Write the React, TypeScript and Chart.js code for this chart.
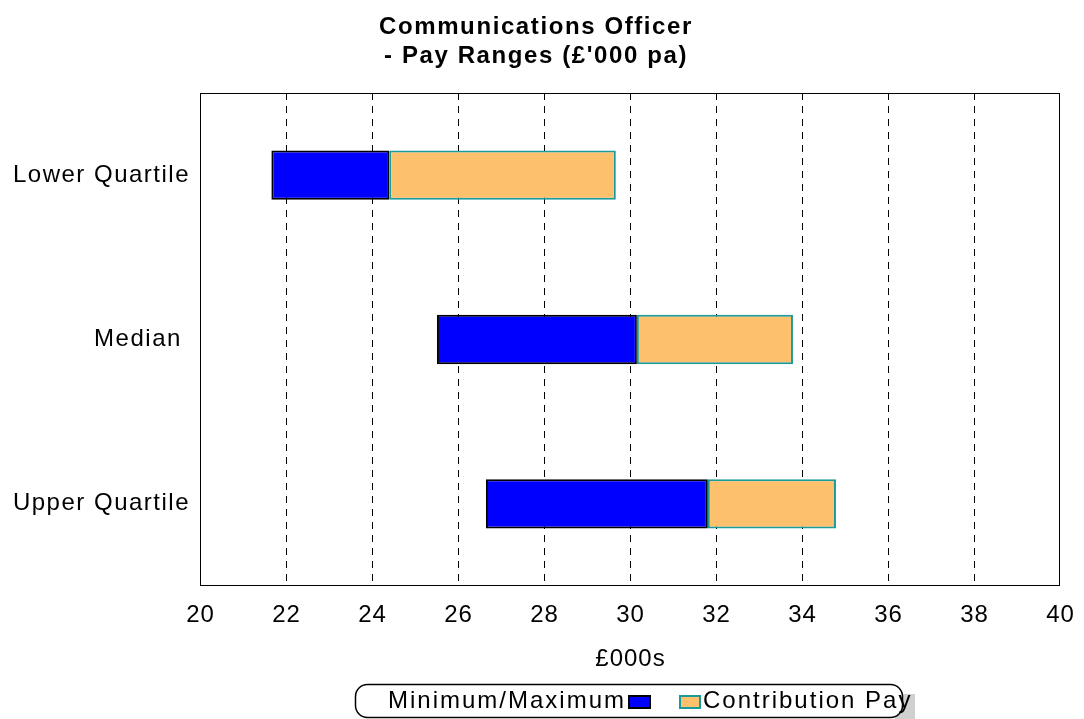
import { useEffect, useRef } from 'react';
import { Chart, registerables } from 'chart.js';

Chart.register(...registerables);

// Pay bands per quartile, in £'000 per year
const categories = ['Lower Quartile', 'Median ', 'Upper Quartile'];
const minimumPay = [21.66, 25.51, 26.65];
const midPay = [24.4, 30.16, 31.81];
const maximumPay = [29.67, 33.79, 34.79];
const xTickValues = [20, 22, 24, 26, 28, 30, 32, 34, 36, 38, 40];
const seriesNames = ['Minimum/Maximum', 'Contribution Pay'];
const titleLines = ['Communications Officer', "- Pay Ranges (£'000 pa)"];
const xAxisTitle = '£000s';

const FONT = '"Liberation Sans", Arial, sans-serif';
const BLUE = '#0000FF';
const ORANGE = '#FDC06D';
const TEAL = '#1B9A9A';

const textPlugin = {
  id: 'chartText',
  afterDraw(chart: any) {
    const ctx = chart.ctx as CanvasRenderingContext2D;
    const { left, top, right, bottom } = chart.chartArea;
    const xScale = chart.scales.x;
    const yScale = chart.scales.y;
    ctx.save();

    // plot frame
    ctx.strokeStyle = '#000';
    ctx.lineWidth = 1;
    ctx.setLineDash([]);
    ctx.strokeRect(left + 0.5, top + 0.5, right - left - 1, bottom - top - 1);

    ctx.fillStyle = '#000';

    // category labels
    (ctx as any).letterSpacing = '1.5px';
    ctx.font = `24px ${FONT}`;
    ctx.textAlign = 'right';
    ctx.textBaseline = 'middle';
    categories.forEach((c, i) => {
      ctx.fillText(c, left - 10, yScale.getPixelForValue(i));
    });

    // value ticks
    (ctx as any).letterSpacing = '1px';
    ctx.textAlign = 'center';
    xTickValues.forEach((v) => {
      ctx.fillText(String(v), xScale.getPixelForValue(v) + 0.5, bottom + 29);
    });

    // axis title
    ctx.fillText(xAxisTitle, (left + right) / 2 + 0.5, bottom + 73);

    // chart title
    (ctx as any).letterSpacing = '1.6px';
    ctx.font = `bold 24px ${FONT}`;
    titleLines.forEach((t, i) => {
      ctx.fillText(t, 536, 27 + i * 29);
    });

    // legend
    const lx = 355, ly = 684, lw = 547, lh = 33;
    ctx.fillStyle = '#D0D0D0';
    ctx.fillRect(lx + 540, ly + 10, 20, 40);
    ctx.beginPath();
    ctx.roundRect(lx + 0.5, ly + 0.5, lw, lh, 12);
    ctx.fillStyle = '#fff';
    ctx.fill();
    ctx.strokeStyle = '#000';
    ctx.lineWidth = 1.5;
    ctx.stroke();

    ctx.font = `24px ${FONT}`;
    (ctx as any).letterSpacing = '2px';
    ctx.fillStyle = '#000';
    ctx.textAlign = 'left';
    ctx.fillText(seriesNames[0], 388, ly + 17);
    // swatches
    ctx.fillStyle = BLUE;
    ctx.fillRect(629, 696, 21, 12);
    ctx.strokeStyle = '#000';
    ctx.lineWidth = 2;
    ctx.strokeRect(629, 696, 21, 12);
    ctx.fillStyle = ORANGE;
    ctx.fillRect(680, 696, 20, 12);
    ctx.strokeStyle = TEAL;
    ctx.strokeRect(680, 696, 20, 12);
    ctx.fillStyle = '#000';
    ctx.fillText(seriesNames[1], 703, ly + 17);

    ctx.restore();
  },
};

export default function App() {
  const canvasRef = useRef<HTMLCanvasElement | null>(null);

  useEffect(() => {
    if (!canvasRef.current) return;
    const chart = new Chart(canvasRef.current, {
      type: 'bar',
      data: {
        labels: categories,
        datasets: [
          {
            label: seriesNames[0],
            data: categories.map((_, i) => [minimumPay[i], midPay[i]]),
            backgroundColor: BLUE,
            borderColor: '#000',
            borderWidth: 2,
            borderSkipped: false,
            grouped: false,
          },
          {
            label: seriesNames[1],
            data: categories.map((_, i) => [midPay[i], maximumPay[i]]),
            backgroundColor: ORANGE,
            borderColor: TEAL,
            borderWidth: 2,
            borderSkipped: false,
            grouped: false,
          },
        ] as any,
      },
      options: {
        indexAxis: 'y',
        animation: false,
        responsive: true,
        maintainAspectRatio: false,
        barPercentage: 0.3,
        categoryPercentage: 1,
        layout: { padding: { left: 200, right: 24, top: 93, bottom: 133 } },
        plugins: {
          legend: { display: false },
          title: { display: false },
          tooltip: { enabled: false },
        },
        scales: {
          x: {
            type: 'linear',
            min: 20,
            max: 40,
            ticks: { display: false, stepSize: 2 },
            grid: {
              drawTicks: false,
              color: (c: any) =>
                c.tick && (c.tick.value === 20 || c.tick.value === 40) ? 'rgba(0,0,0,0)' : '#000',
              lineWidth: 1,
            },
            border: { display: false, dash: [7, 6] },
          },
          y: {
            type: 'category',
            ticks: { display: false },
            grid: { display: false, drawTicks: false },
            border: { display: false },
          },
        },
      } as any,
      plugins: [textPlugin],
    });
    return () => chart.destroy();
  }, []);

  return (
    <div style={{ position: 'absolute', left: 0, top: 0, width: 1084, height: 719, background: '#fff' }}>
      <canvas ref={canvasRef} />
    </div>
  );
}
